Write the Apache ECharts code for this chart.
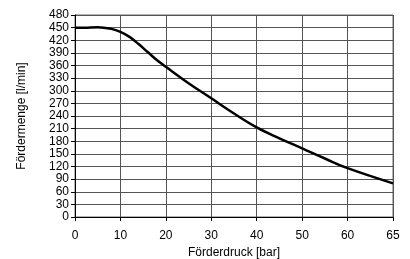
<!DOCTYPE html>
<html>
<head>
<meta charset="utf-8">
<script src="https://cdn.jsdelivr.net/npm/echarts@6/dist/echarts.min.js"></script>
<style>
html,body{margin:0;padding:0;background:#fff;}
#chart{width:410px;height:259px;}
</style>
</head>
<body>
<div id="chart"></div>
<script>
// Förderdruck [bar] / Fördermenge [l/min]
var pressure = [0, 2, 5, 8, 10, 12, 14, 16, 18, 20, 25, 30, 35, 40, 45, 50, 55, 60, 65];
var flow     = [450, 450, 451, 447, 440, 428, 411, 392, 373, 357, 318, 282, 246, 213, 187, 163, 139, 116, 80];
var xTicks = ['0', '10', '20', '30', '40', '50', '60', '65'];

// x-Achse ist ungleichmäßig: 0..60 in 10er Schritten, dann 60..65 gleich breit
function toPos(p){
	if(p <= 60) return p / 10;
	return 6 + (p - 60) / 5;
}

var lineData = [];
for(var i=0;i<pressure.length;i++){
	lineData.push([toPos(pressure[i]), flow[i]]);
}

var font = 'Liberation Sans, Arial, sans-serif';
var myChart = echarts.init(document.getElementById('chart'));
myChart.setOption({
	animation: false,
	grid: {left: 75, right: 17, top: 15, bottom: 42, show: true, borderColor: '#666', borderWidth: 1,
		outerBoundsMode: 'none', containLabel: false},
	xAxis: {
		type: 'value', min: 0, max: 7, interval: 1,
		name: 'Förderdruck [bar]', nameLocation: 'middle', nameGap: 29,
		nameTextStyle: {fontFamily: font, fontSize: 12, color: '#000'},
		axisLine: {show: true, lineStyle: {color: '#000', width: 1}},
		axisTick: {show: true, length: 4, lineStyle: {color: '#000'}},
		axisLabel: {fontFamily: font, fontSize: 12, color: '#000', margin: 13,
			formatter: function(v){ return xTicks[Math.round(v)]; }},
		splitLine: {show: true, lineStyle: {color: '#555', width: 1}}
	},
	yAxis: {
		type: 'value', min: 0, max: 480, interval: 30,
		name: 'Fördermenge [l/min]', nameLocation: 'middle', nameGap: 47, nameRotate: 90,
		nameTextStyle: {fontFamily: font, fontSize: 12, color: '#000'},
		axisLine: {show: true, lineStyle: {color: '#000', width: 1}},
		axisTick: {show: true, length: 4, lineStyle: {color: '#000'}},
		axisLabel: {fontFamily: font, fontSize: 12, color: '#000', margin: 6, lineHeight: 12},
		splitLine: {show: true, lineStyle: {color: '#555', width: 1}}
	},
	series: [{
		type: 'line', data: lineData, smooth: 0.4, showSymbol: false,
		lineStyle: {color: '#000', width: 2.5}
	}]
});
</script>
</body>
</html>
